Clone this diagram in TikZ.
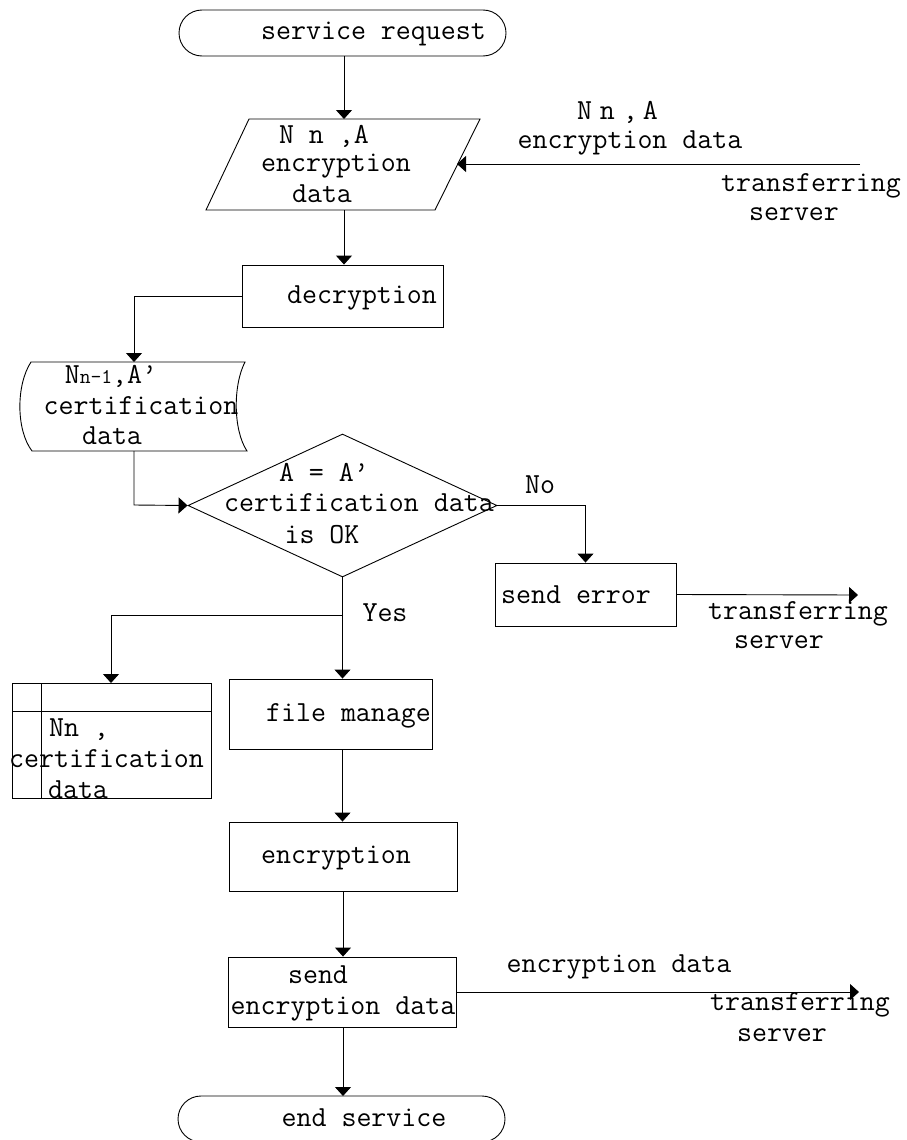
\documentclass[tikz,border=0pt]{standalone}
\usepackage{fontspec}
\setmonofont{Latin Modern Mono}
\usetikzlibrary{arrows.meta,shapes.geometric}
\begin{document}
\begin{tikzpicture}[x=1pt,y=-1pt,
  line width=0.9pt,
  every node/.style={font=\ttfamily\fontsize{29.1}{31}\selectfont, inner sep=0pt},
  txt/.style={anchor=base, yshift=-6.3pt},
  box/.style={draw, rectangle, line width=0.9pt},
  conn/.style={-{Triangle[width=16pt,length=9pt]}}
]
\clip (0,0) rectangle (907,1140);
\fill[white] (0,0) rectangle (907,1140);

% ---- start terminal
\draw[rounded corners=23pt] (179,10) rectangle (506,56);
\coordinate (start-s) at (344,56);
\node[txt] (t-start) at (373.5,33) {service request};

% ---- parallelogram input
\draw (249,119) -- (480,119) -- (435,210) -- (206,210) -- cycle;
\coordinate (par-n) at (344,119);
\coordinate (par-s) at (344,210);
\coordinate (par-e) at (457,164);
\node[txt] (t-par1) at (324,137) {N n ,A};
\node[txt] (t-par2) at (336,165) {encryption};
\node[txt] (t-par3) at (322,196) {data};

% input from transferring server
\coordinate (ts-in) at (860,164);
\node[txt] (t-in1) at (617.5,113) {N\kern8pt n\kern8pt,\kern5pt A};
\node[txt] (t-in2) at (630,142) {encryption data};
\node[txt] (t-in3) at (811,185) {transferring};
\node[txt] (t-in4) at (794,214) {server};

% ---- decryption
\node[box, minimum width=201pt, minimum height=62pt] (dec) at (342.5,296) {};
\node[txt] (t-dec) at (362,297) {decryption};

% ---- stored data (tape-like)
\draw (31,362) -- (245,362) .. controls (233,385) and (233,430) .. (247,451)
      -- (32,451) .. controls (16,430) and (16,385) .. (31,362) -- cycle;
\coordinate (sd-n) at (134,362);
\coordinate (sd-s) at (134,451);
\coordinate (b1) at (134,296);
\coordinate (b2) at (134,505);
\node[txt] (t-sd1) at (111,377) {N{\fontsize{21}{22}\selectfont n-1},A’};
\node[txt] (t-sd2) at (141,408) {certification};
\node[txt] (t-sd3) at (112,438) {data};

% ---- decision
\node[draw, diamond, minimum width=309pt, minimum height=143pt] (dia) at (342.5,505.5) {};
\node[txt] (t-dia1) at (324,475) {A = A’};
\node[txt] (t-dia2) at (359,505) {certification data};
\node[txt] (t-dia3) at (322,537) {is OK};
\node[txt] (t-no) at (540,487) {No};
\node[txt] (t-yes) at (385,615) {Yes};

% ---- send error
\node[box, minimum width=181pt, minimum height=63pt] (err) at (585.5,594.5) {};
\node[txt] (t-err) at (576,597) {send error};
\coordinate (err-out) at (858,595);
\node[txt] (t-err1) at (798,613) {transferring};
\node[txt] (t-err2) at (779,642) {server};

% ---- internal storage
\draw (12,683) rectangle (211,798);
\draw (41,683) -- (41,798);
\draw (12,711) -- (211,711);
\coordinate (st-n) at (111,683);
\coordinate (br) at (343,615);
\node[txt] (t-st1) at (79,730) {Nn ,};
\node[txt] (t-st2) at (106.5,761) {certification};
\node[txt] (t-st3) at (78,792) {data};

% ---- file manage
\node[box, minimum width=203pt, minimum height=70pt] (fm) at (330.5,714) {};
\node[txt] (t-fm) at (348.5,715) {file manage};

% ---- encryption
\node[box, minimum width=228pt, minimum height=69pt] (enc) at (343,856.5) {};
\node[txt] (t-enc) at (336,857) {encryption};

% ---- send encryption data
\node[box, minimum width=228pt, minimum height=70pt] (snd) at (342,992) {};
\node[txt] (t-snd1) at (318,977) {send};
\node[txt] (t-snd2) at (343,1008) {encryption data};
\coordinate (snd-out) at (859,992);
\node[txt] (t-out1) at (619,966) {encryption data};
\node[txt] (t-out2) at (800,1004) {transferring};
\node[txt] (t-out3) at (782,1035) {server};

% ---- end terminal
\draw[rounded corners=23pt] (178,1096) rectangle (505,1142);
\coordinate (end-n) at (343,1096);
\node[txt] (t-end) at (364,1120) {end service};

% ---- connectors
\draw[conn] (start-s) -- (par-n);
\draw[conn] (ts-in) -- (par-e);
\draw[conn] (par-s) -- (dec.north -| par-s);
\draw[conn] (dec.west) -- (b1) -- (sd-n);
\draw[conn] (sd-s) -- (b2) -- (dia.west);
\draw[conn] (dia.east) -| (err.north);
\draw[conn] (err.east) -- (err-out);
\draw[conn] (dia.south) -- (fm.north -| dia.south);
\draw[conn] (br) -| (st-n);
\draw[conn] (fm.south -| dia.south) -- (enc.north -| dia.south);
\draw[conn] (enc.south) -- (snd.north -| enc.south);
\draw[conn] (snd.east) -- (snd-out);
\draw[conn] (snd.south -| enc.south) -- (end-n);
\end{tikzpicture}
\end{document}
